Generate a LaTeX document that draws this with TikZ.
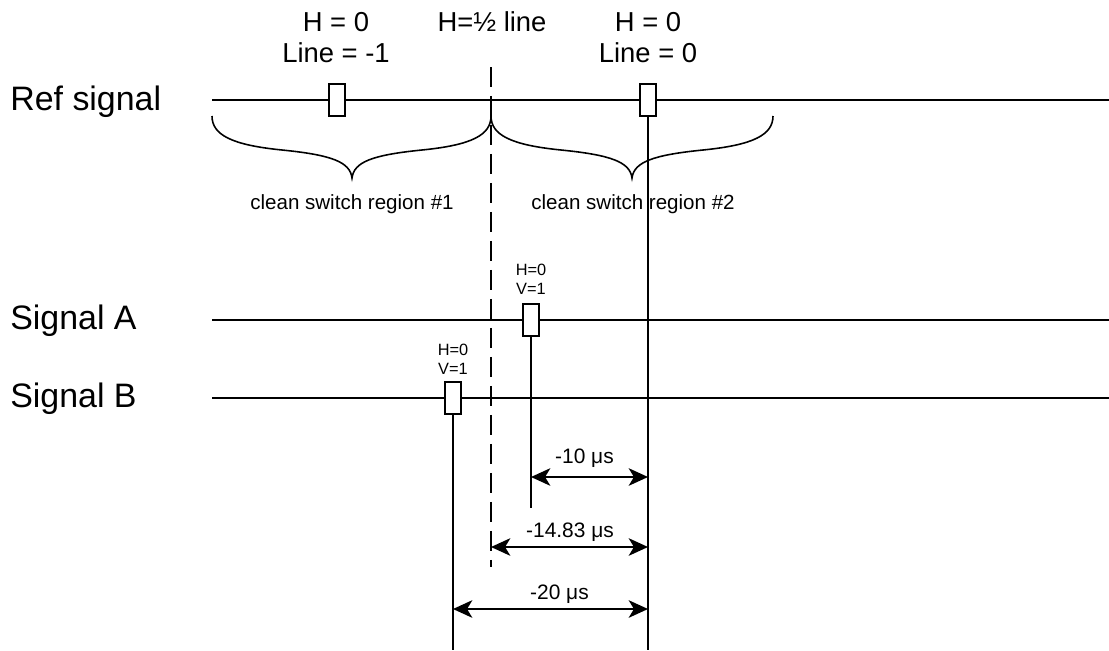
\documentclass[tikz,border=0pt]{standalone}
\usepackage{fontspec}
\setmainfont{Liberation Sans}
\usetikzlibrary{arrows.meta}

\begin{document}
\begin{tikzpicture}[x=0.02cm, y=-0.02cm, >={Stealth[length=11pt,width=10pt,inset=3pt]},
    every node/.style={align=center, inner sep=0pt},
    sig/.style={line width=1.1pt},
    pulse/.style={draw, fill=white, line width=1.1pt, minimum width=0.32cm, minimum height=0.64cm},
    signame/.style={font=\fontsize{19.3}{23}\selectfont, anchor=west},
    toplbl/.style={font=\fontsize{15.6}{17.6}\selectfont},
    pulselbl/.style={font=\fontsize{9.3}{10.8}\selectfont},
    regionlbl/.style={font=\fontsize{11.7}{14}\selectfont},
    dimlbl/.style={font=\fontsize{11.9}{14}\selectfont},
    brace/.style={line width=0.9pt}]
    \useasboundingbox (0,0) rectangle (1109,650);

    % signal names
    \node[signame] (refName) at (10,102) {Ref signal};
    \node[signame] (aName) at (10,321) {Signal A};
    \node[signame] (bName) at (10,399) {Signal B};

    % line ends
    \coordinate (refStart) at (212,100);
    \coordinate (refEnd) at (1109,100);
    \coordinate (aStart) at (212,320);
    \coordinate (aEnd) at (1109,320);
    \coordinate (bStart) at (212,398);
    \coordinate (bEnd) at (1109,398);
    \coordinate (halfTop) at (491,67);
    \coordinate (halfBot) at (491,567);

    \draw[sig] (refStart) -- (refEnd);
    \draw[sig] (aStart) -- (aEnd);
    \draw[sig] (bStart) -- (bEnd);
    \draw[sig, dash pattern=on 11.5pt off 5pt] (halfTop) -- (halfBot);

    % pulses
    \node[pulse] (refPrev) at (337,100) {};
    \node[pulse] (refCur) at (648,100) {};
    \node[pulse] (pulseA) at (531,320) {};
    \node[pulse] (pulseB) at (453,398) {};

    \coordinate (refCurBot) at (648,650);
    \coordinate (aBot) at (531,508);
    \coordinate (bBot) at (453,650);
    \draw[sig] (refCur.south) -- (refCurBot);
    \draw[sig] (pulseA.south) -- (aBot);
    \draw[sig] (pulseB.south) -- (bBot);

    % labels above
    \node[toplbl] (prevLbl) at (336,37.5) {H = 0\\Line = -1};
    \node[toplbl] (halfLbl) at (492,22) {H=½ line};
    \node[toplbl] (curLbl) at (648,37.5) {H = 0\\Line = 0};
    \node[pulselbl] (aLbl) at (531,279.5) {H=0\\V=1};
    \node[pulselbl] (bLbl) at (453,359) {H=0\\V=1};

    % braces
    \draw[brace] (212,116) .. controls (212,135) and (232,145) .. (282,150)
      .. controls (332,155) and (350,162) .. (352,178)
      .. controls (354,162) and (372,155) .. (422,150)
      .. controls (472,145) and (491,135) .. (491,116);
    \draw[brace] (491,116) .. controls (491,135) and (511,145) .. (561,150)
      .. controls (611,155) and (630,162) .. (632,178)
      .. controls (634,162) and (653,155) .. (703,150)
      .. controls (753,145) and (773,135) .. (773,116);
    \node[regionlbl] (region1) at (352,204) {clean switch region \#1};
    \node[regionlbl] (region2) at (633,204) {clean switch region \#2};

    % offsets
    \coordinate (d1a) at (531,477);
    \coordinate (d1b) at (648,477);
    \coordinate (d2a) at (491,547);
    \coordinate (d2b) at (648,547);
    \coordinate (d3a) at (453,609);
    \coordinate (d3b) at (648,609);
    \draw[sig,<->] (d1a) -- (d1b);
    \draw[sig,<->] (d2a) -- (d2b);
    \draw[sig,<->] (d3a) -- (d3b);
    \node[dimlbl] (d1Lbl) at (584.5,458) {-10 μs};
    \node[dimlbl] (d2Lbl) at (570,532) {-14.83 μs};
    \node[dimlbl] (d3Lbl) at (559.5,594) {-20 μs};
\end{tikzpicture}
\end{document}
